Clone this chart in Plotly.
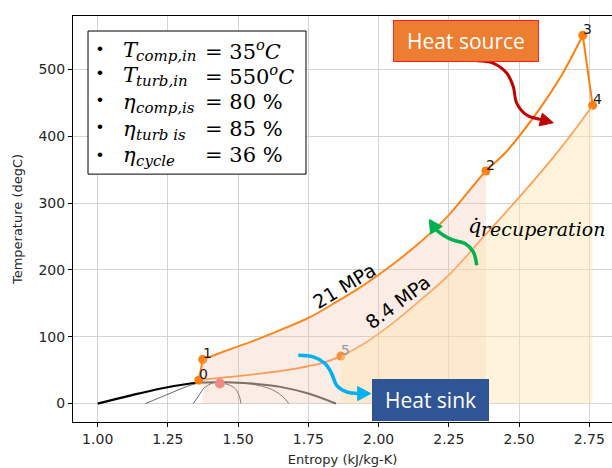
import plotly.graph_objects as go

# ---------------- data ----------------
# 21 MPa (high-pressure) branch: state 1 -> 2 -> 3
hp_s = [1.374, 1.45, 1.55, 1.65, 1.75, 1.85, 1.95, 2.05, 2.15, 2.25, 2.382, 2.453, 2.572, 2.65, 2.727]
hp_T = [66, 78, 93, 110, 128, 152, 178, 208, 242, 282, 348, 376, 440, 490, 551]
# 8.4 MPa (low-pressure) branch: state 4 -> 5 -> 0
lp_s = [2.762, 2.68, 2.60, 2.50, 2.382, 2.25, 2.15, 2.05, 1.95, 1.866, 1.80, 1.70, 1.60, 1.50, 1.40, 1.36]
lp_T = [446, 399, 357, 308, 253, 192, 155, 120, 90, 71, 61, 52, 46, 41, 37, 35]
# compression 0 -> 1, expansion 3 -> 4
comp_s = [1.360, 1.366, 1.374]
comp_T = [35, 50, 66]
turb_s = [2.727, 2.762]
turb_T = [551, 446]
# state points
state_names = ["0", "1", "2", "3", "4", "5"]
state_s = [1.360, 1.374, 2.382, 2.727, 2.762, 1.866]
state_T = [35, 66, 348, 551, 446, 71]
# critical point
crit_s = [1.435]
crit_T = [30]
# saturation dome
liq_s = [1.00, 1.115, 1.23, 1.33, 1.36]
liq_T = [0, 12, 23, 30, 31.5]
vap_s = [1.36, 1.45, 1.55, 1.65, 1.75, 1.848]
vap_T = [31.5, 32, 30, 25, 15, 0]
# thin lines inside the dome region
iso_s = [[1.17, 1.25, 1.32, 1.36], [1.34, 1.36, 1.38, 1.41],
         [1.40, 1.46, 1.49, 1.505, 1.51], [1.45, 1.55, 1.62, 1.66, 1.68]]
iso_T = [[0, 14, 26, 31], [0, 12, 24, 31],
         [32, 29, 22, 10, 0], [32, 29, 21, 10, 0]]
# ticks
x_ticks = [1.00, 1.25, 1.50, 1.75, 2.00, 2.25, 2.50, 2.75]
y_ticks = [0, 100, 200, 300, 400, 500]
# parameter box text
param_sym = ["T", "T", "η", "η", "η"]
param_sub = ["comp,in", "turb,in", "comp,is", "turb is", "cycle"]
param_val = ["35", "550", "80", "85", "36"]
param_unit = ["<i><sup>o</sup>C</i>", "<i><sup>o</sup>C</i>", " %", " %", " %"]
pressure_labels = ["21 MPa", "8.4 MPa"]

# ---------------- pixel <-> data helpers ----------------
XPX0, XSC = 97.7, 280.9     # pixel of s=1.0, pixels per kJ/kg-K
YPX0, YSC = 403.3, 0.668    # pixel of T=0, pixels per degC
def X(px): return 1.0 + (px - XPX0) / XSC
def Y(py): return (YPX0 - py) / YSC

ORANGE = "#ff7f0e"
fig = go.Figure()

# saturation dome
fig.add_trace(go.Scatter(x=liq_s, y=liq_T, mode="lines", line=dict(color="black", width=2.2, shape="spline")))
fig.add_trace(go.Scatter(x=vap_s, y=vap_T, mode="lines", line=dict(color="#555555", width=2, shape="spline")))
for xs, ys in zip(iso_s, iso_T):
    fig.add_trace(go.Scatter(x=xs, y=ys, mode="lines", line=dict(color="#555555", width=0.9, shape="spline")))

# cycle
fig.add_trace(go.Scatter(x=comp_s, y=comp_T, mode="lines", line=dict(color=ORANGE, width=2)))
fig.add_trace(go.Scatter(x=hp_s, y=hp_T, mode="lines", line=dict(color=ORANGE, width=2, shape="spline")))
fig.add_trace(go.Scatter(x=turb_s, y=turb_T, mode="lines", line=dict(color=ORANGE, width=2)))
fig.add_trace(go.Scatter(x=lp_s, y=lp_T, mode="lines", line=dict(color="#ff9040", width=1.8, shape="spline")))
fig.add_trace(go.Scatter(x=state_s, y=state_T, mode="markers", marker=dict(color=ORANGE, size=9)))
fig.add_trace(go.Scatter(x=crit_s, y=crit_T, mode="markers", marker=dict(color="#f27a7a", size=10)))

# shaded heat areas
pink_s = [s for s in hp_s if s <= state_s[2]]
pink_T = hp_T[:len(pink_s)]
yel_s = [s for s in lp_s if s >= state_s[5]]
yel_T = lp_T[:len(yel_s)]
fig.add_trace(go.Scatter(x=pink_s, y=pink_T, mode="lines", fill="tozeroy",
                         line=dict(width=0, shape="spline"), fillcolor="rgba(240,190,160,0.27)"))
fig.add_trace(go.Scatter(x=yel_s, y=yel_T, mode="lines", fill="tozeroy",
                         line=dict(width=0, shape="spline"), fillcolor="rgba(255,228,175,0.45)"))

# curved arrows (decoration, positioned in pixels)
shapes = []
def curved_arrow(pts, tip, color, width, hl=13, hw=6.5):
    xs = [X(p[0]) for p in pts]
    ys = [Y(p[1]) for p in pts]
    fig.add_trace(go.Scatter(x=xs, y=ys, mode="lines",
                             line=dict(color=color, width=width, shape="spline")))
    lx, ly = pts[-1]
    dx, dy = tip[0] - lx, tip[1] - ly
    n = (dx * dx + dy * dy) ** 0.5
    ux, uy = dx / n, dy / n
    bx, by = tip[0] - ux * hl, tip[1] - uy * hl
    p1 = (bx - uy * hw, by + ux * hw)
    p2 = (bx + uy * hw, by - ux * hw)
    path = "M {},{} L {},{} L {},{} Z".format(X(tip[0]), Y(tip[1]), X(p1[0]), Y(p1[1]), X(p2[0]), Y(p2[1]))
    shapes.append(dict(type="path", path=path, xref="x", yref="y", fillcolor=color,
                       line=dict(color=color, width=1), layer="above"))

curved_arrow([(476.7, 60.7), (493, 63), (506.7, 73), (513.3, 86.7), (516.7, 103),
              (526.7, 115), (541, 119.5)], (553.3, 122.7), "#c00000", 3)
curved_arrow([(476.7, 265), (473.3, 251.7), (465, 243.3), (453.3, 240), (443.3, 235),
              (436, 229.5)], (429.3, 219.3), "#00b050", 3.5, hl=13, hw=7)
curved_arrow([(298.3, 355), (313.3, 356.7), (325, 363.3), (331.7, 373.3), (336.7, 385),
              (346.7, 391.7), (358, 393.3)], (370.7, 393.3), "#00b0f0", 3.5, hl=13, hw=7)

# parameter box
shapes.append(dict(type="rect", xref="x", yref="y", x0=X(88), x1=X(306), y0=Y(31), y1=Y(174),
                   fillcolor="white", line=dict(color="black", width=1), layer="above"))

ann = []
SERIF = "DejaVu Serif"
base_y = [57, 82, 109, 136, 162]
bullet_y = [48.3, 72.7, 99.3, 126.7, 154.3]
for i in range(5):
    b = base_y[i]
    ann.append(dict(x=X(100), y=Y(bullet_y[i]), text="•", showarrow=False, xanchor="center", yanchor="middle",
                    font=dict(family="Liberation Sans", size=17, color="black")))
    ann.append(dict(x=X(121), y=Y(b - 0.34 * 21), text="<i>" + param_sym[i] + "</i>", showarrow=False,
                    xanchor="left", yanchor="middle", font=dict(family=SERIF, size=21, color="black")))
    ann.append(dict(x=X(134), y=Y(b + 4 - 0.34 * 15), text="<i>" + param_sub[i] + "</i>", showarrow=False,
                    xanchor="left", yanchor="middle", font=dict(family=SERIF, size=15, color="black")))
    ann.append(dict(x=X(203), y=Y(b - 0.34 * 21), text="= " + param_val[i] + param_unit[i], showarrow=False,
                    xanchor="left", yanchor="middle", font=dict(family=SERIF, size=21, color="black")))

# recuperation label
ann.append(dict(x=X(466), y=Y(232.7 - 0.34 * 21), text="<i>q̇</i>", showarrow=False, xanchor="left",
                yanchor="middle", font=dict(family=SERIF, size=21, color="black")))
ann.append(dict(x=X(479), y=Y(235 - 0.34 * 19), text="<i>recuperation</i>", showarrow=False, xanchor="left",
                yanchor="middle", font=dict(family=SERIF, size=19, color="black")))

# pressure labels
ann.append(dict(x=X(344), y=Y(286), text=pressure_labels[0], textangle=-31, showarrow=False,
                font=dict(family="DejaVu Sans", size=19, color="black")))
ann.append(dict(x=X(397.5), y=Y(301.5), text=pressure_labels[1], textangle=-37, showarrow=False,
                font=dict(family="DejaVu Sans", size=19, color="black")))

# state labels
for name, s, t in zip(state_names, state_s, state_T):
    ann.append(dict(x=s, y=t, text=name, showarrow=False, xanchor="center", yanchor="middle",
                    xshift=5, yshift=6,
                    font=dict(family="DejaVu Sans", size=14, color="#999999" if name == "5" else "#1a1a1a")))

# heat source / sink boxes
ann.append(dict(x=X(465.5), y=Y(40.8), text="Heat source", showarrow=False, xanchor="center", yanchor="middle",
                width=144, height=40, borderpad=0, bgcolor="#ed7d31", bordercolor="#ff2020", borderwidth=1,
                font=dict(family="Open Sans", size=21, color="white")))
ann.append(dict(x=X(430.3), y=Y(400.2), text="Heat sink", showarrow=False, xanchor="center", yanchor="middle",
                width=115, height=40, borderpad=0, bgcolor="#2f5597", bordercolor="#2f528f", borderwidth=1,
                font=dict(family="Open Sans", size=21, color="white")))

fig.update_traces(showlegend=False, hoverinfo="skip")
fig.update_layout(
    width=612, height=468, autosize=False,
    margin=dict(l=73, r=0, t=16, b=46, pad=0),
    plot_bgcolor="white", paper_bgcolor="white",
    shapes=shapes, annotations=ann, showlegend=False,
    font=dict(family="DejaVu Sans", color="#262626"),
)
fig.update_xaxes(range=[X(73), X(612)], tickvals=x_ticks, ticktext=["%.2f" % v for v in x_ticks],
                 automargin=False,
                 showgrid=True, gridcolor="#d4d4d4", gridwidth=1, zeroline=False,
                 showline=True, linecolor="black", linewidth=1, mirror=True,
                 ticks="outside", ticklen=4, tickcolor="black", tickfont=dict(size=14),
                 title=dict(text="Entropy (kJ/kg-K)", font=dict(size=13), standoff=9))
fig.update_yaxes(range=[Y(421.7), Y(16)], tickvals=y_ticks,
                 automargin=False,
                 showgrid=True, gridcolor="#d4d4d4", gridwidth=1, zeroline=False,
                 showline=True, linecolor="black", linewidth=1, mirror=False,
                 ticks="outside", ticklen=4, tickcolor="black", tickfont=dict(size=14),
                 title=dict(text="Temperature (degC)", font=dict(size=13), standoff=12))

fig.write_html("out.html", config={"displayModeBar": False},
               post_script="document.body.style.margin='0px';document.body.style.overflow='hidden';")
